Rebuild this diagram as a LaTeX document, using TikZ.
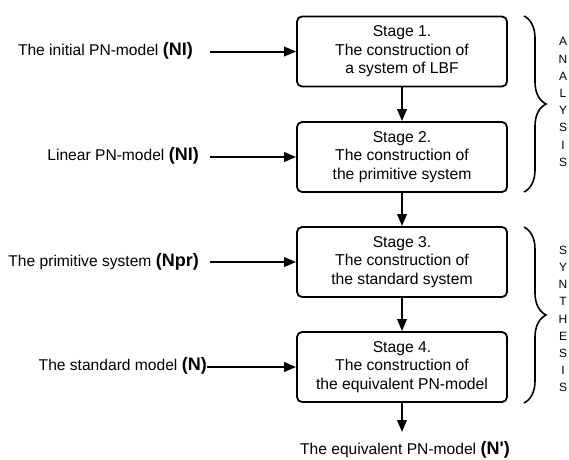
\documentclass[tikz,border=0pt]{standalone}
\usepackage{fontspec}
\setmainfont{Liberation Sans}
\newfontfamily\plainsans{Liberation Sans}
\usetikzlibrary{arrows.meta,decorations.pathreplacing}
\begin{document}
\begin{tikzpicture}[x=1pt,y=-1pt,
  stagebox/.style={draw,line width=1.8pt,rounded corners=5pt,minimum width=210pt,minimum height=70pt,align=center,font=\fontsize{15.7}{18.5}\selectfont,inner sep=0pt},
  inlabel/.style={anchor=east,font=\fontsize{15.6}{18}\selectfont,inner sep=0pt},
  arr/.style={line width=2pt,-{Triangle[length=12pt,width=9.5pt]}},
  bracestyle/.style={line width=1.6pt,decorate,decoration={brace,amplitude=22pt,aspect=0.5}},
  letters/.style={align=center,font=\fontsize{12}{17.2}\selectfont,inner sep=0pt}]
\useasboundingbox (0,0) rectangle (569,459);
\newcommand{\bb}[1]{{\fontsize{18}{18}\selectfont\bfseries #1}}
\node[stagebox] (s1) at (402,51.5) {Stage 1.\\The construction of\\a system of LBF};
\node[stagebox] (s2) at (402,157) {Stage 2.\\The construction of\\the primitive system};
\node[stagebox] (s3) at (402,262) {Stage 3.\\The construction of\\the standard system};
\node[stagebox] (s4) at (402,367) {Stage 4.\\The construction of\\the equivalent PN-model};
\node[inlabel] (l1) at (193,51) {The initial PN-model \bb{(NI)}};
\node[inlabel] (l2) at (199,156) {Linear PN-model \bb{(NI)}};
\node[inlabel] (l3) at (199,262) {The primitive system \bb{(Npr)}};
\node[inlabel] (l4) at (207,366) {The standard model \bb{(N)}};
\coordinate (c1) at (210,51.5);
\coordinate (c2) at (210,157);
\coordinate (c3) at (210,262);
\coordinate (c4) at (207,367);
\draw[arr] (c1) -- (s1.west);
\draw[arr] (c2) -- (s2.west);
\draw[arr] (c3) -- (s3.west);
\draw[arr] (c4) -- (s4.west);
\draw[arr] (s1) -- (s2);
\draw[arr] (s2) -- (s3);
\draw[arr] (s3) -- (s4);
\node[font=\fontsize{15.6}{18}\selectfont,inner sep=0pt] (out) at (405,450) {The equivalent PN-model \bb{\plainsans(N')}};
\coordinate (o) at (402,432);
\draw[arr] (s4) -- (o);
\coordinate (b1t) at (524,16);
\coordinate (b1b) at (524,192);
\coordinate (b2t) at (524,227);
\coordinate (b2b) at (524,403);
\draw[bracestyle] (b1t) -- (b1b);
\draw[bracestyle] (b2t) -- (b2b);
\node[letters] (an) at (563,102) {A\\N\\A\\L\\Y\\S\\I\\S};
\node[letters] (sy) at (563,319) {S\\Y\\N\\T\\H\\E\\S\\I\\S};
\end{tikzpicture}
\end{document}
